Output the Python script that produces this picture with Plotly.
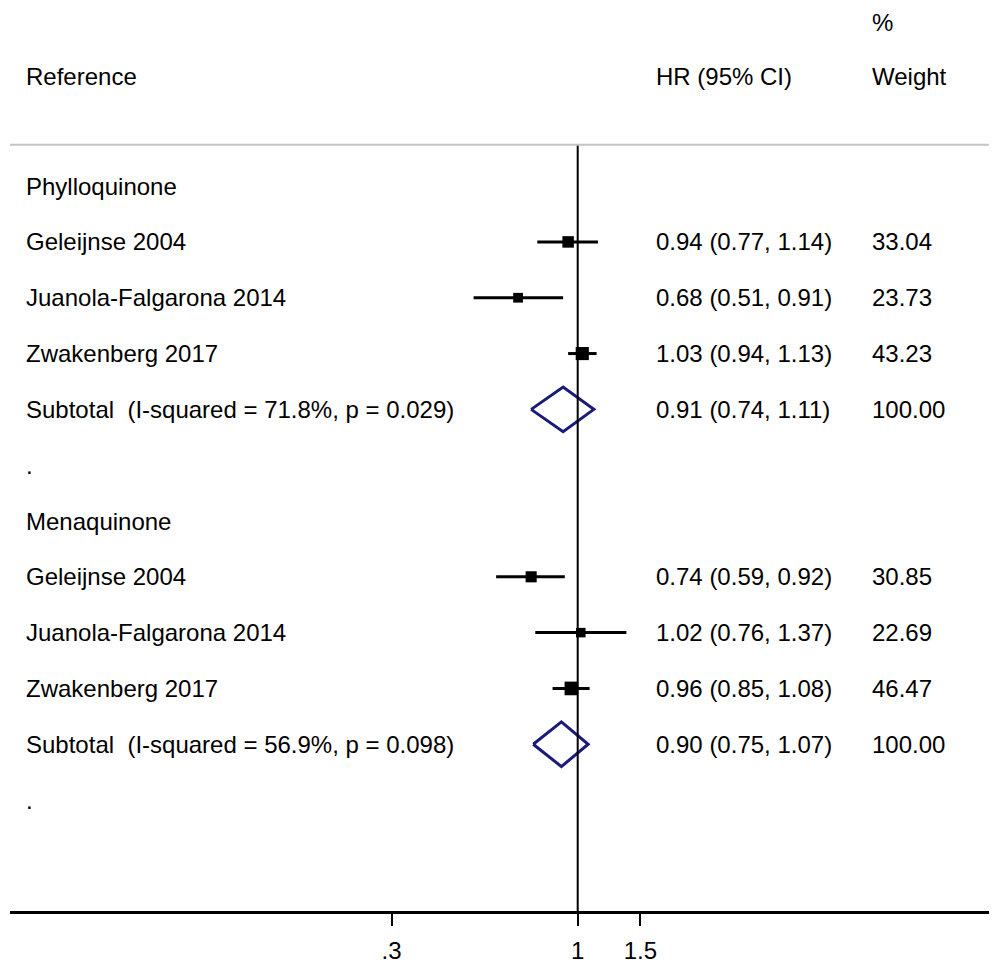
import plotly.graph_objects as go
import math

# ---------------- data ----------------
row_labels = [
    "Phylloquinone",
    "Geleijnse 2004",
    "Juanola-Falgarona 2014",
    "Zwakenberg 2017",
    "Subtotal  (I-squared = 71.8%, p = 0.029)",
    ".",
    "Menaquinone",
    "Geleijnse 2004",
    "Juanola-Falgarona 2014",
    "Zwakenberg 2017",
    "Subtotal  (I-squared = 56.9%, p = 0.098)",
    ".",
]
row_kind = ["head", "study", "study", "study", "sub", "blank",
            "head", "study", "study", "study", "sub", "blank"]
hr = [None, 0.94, 0.68, 1.03, 0.91, None, None, 0.74, 1.02, 0.96, 0.90, None]
ci_lo = [None, 0.77, 0.51, 0.94, 0.74, None, None, 0.59, 0.76, 0.85, 0.75, None]
ci_hi = [None, 1.14, 0.91, 1.13, 1.11, None, None, 0.92, 1.37, 1.08, 1.07, None]
weight = [None, 33.04, 23.73, 43.23, 100.00, None, None, 30.85, 22.69, 46.47, 100.00, None]

tick_vals = [0.3, 1, 1.5]
tick_text = [".3", "1", "1.5"]

header_study = "Reference"
header_es = "HR (95% CI)"
header_w1 = "%"
header_w2 = "Weight"

# ---------------- layout constants (reference-pixel based) ----------------
OFF = 8                      # page body margin in the browser
WIN_W, WIN_H = 997, 964
W, H = WIN_W - OFF, WIN_H - OFF
plot_x0, plot_x1 = 10, 997   # plot area in window pixels
plot_y0, plot_y1 = OFF, 914
ML = plot_x0 - OFF
MR = WIN_W - plot_x1
MT = plot_y0 - OFF
MB = WIN_H - plot_y1
plot_w = plot_x1 - plot_x0

row0_px = 186.7
row_step = 56.0
px_per_dec = 356.0
x_null_px = 577.7

x_range = [(plot_x0 - x_null_px) / px_per_dec, (plot_x1 - x_null_px) / px_per_dec]
y_top = (plot_y0 - row0_px) / row_step
y_bot = (plot_y1 - row0_px) / row_step

FONT = "Liberation Sans, Arial, Helvetica, sans-serif"
FS = 24
NAVY = "#1a1a78"
TXT_SHIFT = -3

def px_to_paper(px):
    return (px + TXT_SHIFT - plot_x0) / plot_w

fig = go.Figure()

# CI lines for studies
cx, cy = [], []
for i, k in enumerate(row_kind):
    if k == "study":
        cx += [ci_lo[i], ci_hi[i], None]
        cy += [i, i, None]
fig.add_trace(go.Scatter(x=cx, y=cy, mode="lines",
                         line=dict(color="black", width=3),
                         hoverinfo="skip", showlegend=False))

# weighted boxes
sx, sy, ss = [], [], []
for i, k in enumerate(row_kind):
    if k == "study":
        sx.append(hr[i]); sy.append(i); ss.append(2.0 * math.sqrt(weight[i]))
fig.add_trace(go.Scatter(x=sx, y=sy, mode="markers",
                         marker=dict(symbol="square", size=ss, color="black",
                                     opacity=1, line=dict(width=0)),
                         showlegend=False))

# subtotal diamonds
for i, k in enumerate(row_kind):
    if k == "sub":
        h = 0.4
        fig.add_trace(go.Scatter(
            x=[ci_lo[i], hr[i], ci_hi[i], hr[i], ci_lo[i]],
            y=[i, i - h, i, i + h, i],
            mode="lines", line=dict(color=NAVY, width=3),
            hoverinfo="skip", showlegend=False))

# null line at 1
fig.add_shape(type="line", xref="x", yref="y", x0=1, x1=1,
              y0=-0.74, y1=y_bot, line=dict(color="black", width=2))
# grey separator
fig.add_shape(type="line", xref="paper", yref="y", x0=0, x1=1,
              y0=-0.74, y1=-0.74, line=dict(color="#c4c4c4", width=2))

annots = []
def add_text(px, yrow, txt):
    annots.append(dict(x=px_to_paper(px), xref="paper", y=yrow, yref="y",
                       text=txt, showarrow=False, xanchor="left",
                       yanchor="middle",
                       font=dict(family=FONT, size=FS, color="black")))

add_text(27, -1.96, header_study)
add_text(657, -1.96, header_es)
add_text(873, -1.96, header_w2)
add_text(873, -2.94, header_w1)

for i, lab in enumerate(row_labels):
    add_text(27, i, lab)
    if hr[i] is not None:
        add_text(657, i, f"{hr[i]:.2f} ({ci_lo[i]:.2f}, {ci_hi[i]:.2f})")
        add_text(873, i, f"{weight[i]:.2f}")

fig.update_layout(
    width=W, height=H,
    margin=dict(l=ML, r=MR, t=MT, b=MB),
    paper_bgcolor="white", plot_bgcolor="white",
    annotations=annots,
    showlegend=False,
    xaxis=dict(type="log", range=x_range, showgrid=False, zeroline=False,
               showline=True, linecolor="black", linewidth=2.5,
               ticks="outside", ticklen=12, tickwidth=2, tickcolor="black",
               tickvals=tick_vals, ticktext=tick_text,
               tickfont=dict(family=FONT, size=FS, color="black"),
               ticklabelstandoff=4),
    yaxis=dict(range=[y_bot, y_top], visible=False, showgrid=False,
               zeroline=False),
)

fig.write_html("out.html")
